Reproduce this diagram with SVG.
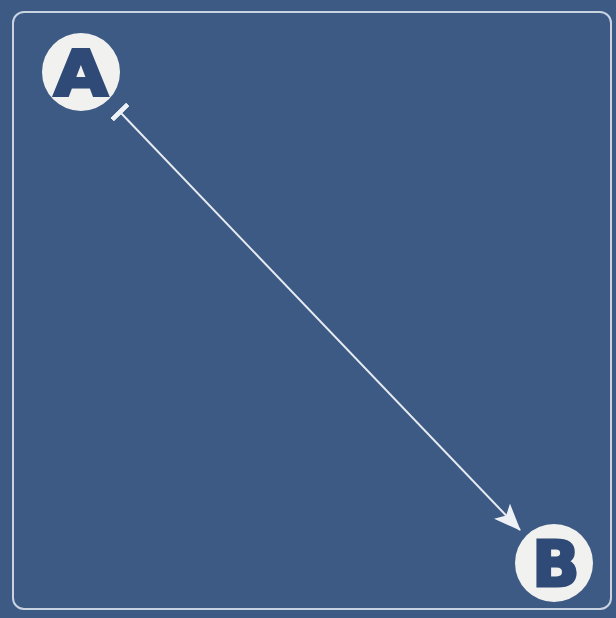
<svg xmlns="http://www.w3.org/2000/svg" width="616" height="618" viewBox="0 0 616 618">
<style>
.node circle{fill:#f1f1f0}
.node text{font-family:"DejaVu Sans",sans-serif;font-weight:bold;font-size:62px;fill:#2f4a76;stroke:#2f4a76;stroke-width:3;stroke-linejoin:miter;text-anchor:middle}
.edge{stroke:#e8ecf2;stroke-width:2;fill:none}
</style>
<defs>
<marker id="arrow" markerWidth="27" markerHeight="22" refX="26" refY="11" orient="auto" markerUnits="userSpaceOnUse">
<path d="M0,0 L27,11 L0,22 L6,11 Z" fill="#eef1f5"/>
</marker>
<marker id="tee" markerWidth="5" markerHeight="22" refX="2.5" refY="11" orient="auto" markerUnits="userSpaceOnUse">
<rect x="0" y="0" width="5" height="22" fill="#eef1f5"/>
</marker>
</defs>
<rect width="616" height="618" fill="#3c5a84"/>
<rect x="13" y="12" width="598" height="597" rx="11" fill="none" stroke="#c9d3e2" stroke-width="2"/>
<g id="connectors">
<line class="edge" x1="120" y1="112" x2="520" y2="530" marker-start="url(#tee)" marker-end="url(#arrow)"/>
</g>
<g id="A" class="node">
<circle cx="81" cy="72" r="39"/>
<text x="81" y="95" transform="translate(81 0) scale(1.12 1) translate(-81 0)">A</text>
</g>
<g id="B" class="node">
<circle cx="554" cy="563" r="39"/>
<text x="556" y="586">B</text>
</g>
</svg>
